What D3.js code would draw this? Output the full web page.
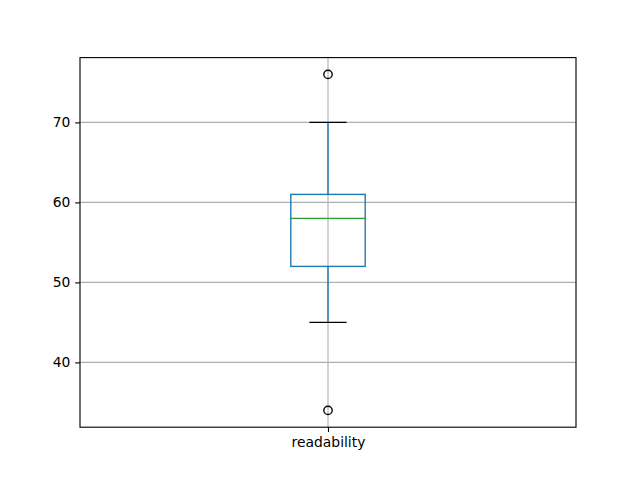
<!DOCTYPE html>
<html>
<head>
<meta charset="utf-8">
<script src="https://cdn.jsdelivr.net/npm/d3@7"></script>
<style>
  html, body { margin: 0; padding: 0; background: #fff; }
  text { font-family: "DejaVu Sans", sans-serif; }
</style>
</head>
<body>
<div id="chart"></div>
<script>
// pandas-style boxplot of one column
const categories = ["readability"];
const q1 = [52];
const medians = [58];
const q3 = [61];
const whiskLo = [45];
const whiskHi = [70];
const fliers = [[34, 76]];
const yTicks = [40, 50, 60, 70];

const W = 640, H = 480;
const m = { top: 57.6, right: 64, bottom: 52.8, left: 80 };
const pt = 100 / 72; // matplotlib points -> px at dpi 100

const svg = d3.select("#chart").append("svg")
  .attr("width", W).attr("height", H);

const x = d3.scaleLinear().domain([0.5, 1.5]).range([m.left, W - m.right]);
const y = d3.scaleLinear().domain([31.9, 78.1]).range([H - m.bottom, m.top]);

const grid = "#b0b0b0";

// grid lines
svg.append("g").selectAll("line").data(yTicks).enter().append("line")
  .attr("x1", m.left).attr("x2", W - m.right)
  .attr("y1", d => y(d)).attr("y2", d => y(d))
  .attr("stroke", grid).attr("stroke-width", 0.8 * pt);
svg.append("g").selectAll("line").data(categories).enter().append("line")
  .attr("x1", (d, i) => x(i + 1)).attr("x2", (d, i) => x(i + 1))
  .attr("y1", m.top).attr("y2", H - m.bottom)
  .attr("stroke", grid).attr("stroke-width", 0.8 * pt);

const boxW = 0.15, capW = 0.075;

categories.forEach((c, i) => {
  const p = i + 1;
  const g = svg.append("g");
  // whiskers
  g.append("line").attr("x1", x(p)).attr("x2", x(p))
    .attr("y1", y(q3[i])).attr("y2", y(whiskHi[i]))
    .attr("stroke", "#1f77b4").attr("stroke-width", pt);
  g.append("line").attr("x1", x(p)).attr("x2", x(p))
    .attr("y1", y(q1[i])).attr("y2", y(whiskLo[i]))
    .attr("stroke", "#1f77b4").attr("stroke-width", pt);
  // caps
  [whiskLo[i], whiskHi[i]].forEach(v => {
    g.append("line").attr("x1", x(p - capW / 2)).attr("x2", x(p + capW / 2))
      .attr("y1", y(v)).attr("y2", y(v))
      .attr("stroke", "#000").attr("stroke-width", pt);
  });
  // box
  g.append("rect")
    .attr("x", x(p - boxW / 2)).attr("width", x(p + boxW / 2) - x(p - boxW / 2))
    .attr("y", y(q3[i])).attr("height", y(q1[i]) - y(q3[i]))
    .attr("fill", "none").attr("stroke", "#1f77b4").attr("stroke-width", pt);
  // median
  g.append("line").attr("x1", x(p - boxW / 2)).attr("x2", x(p + boxW / 2))
    .attr("y1", y(medians[i])).attr("y2", y(medians[i]))
    .attr("stroke", "#2ca02c").attr("stroke-width", pt);
  // fliers
  g.selectAll("circle").data(fliers[i]).enter().append("circle")
    .attr("cx", x(p)).attr("cy", d => y(d)).attr("r", 3 * pt)
    .attr("fill", "none").attr("stroke", "#000").attr("stroke-width", pt);
});

// axes
const yAxis = svg.append("g").attr("transform", `translate(${m.left},0)`)
  .call(d3.axisLeft(y).tickValues(yTicks).tickSize(3.5 * pt).tickPadding(3.5 * pt));
const xAxis = svg.append("g").attr("transform", `translate(0,${H - m.bottom})`)
  .call(d3.axisBottom(x).tickValues([1]).tickFormat((d) => categories[d - 1])
    .tickSize(3.5 * pt).tickPadding(3.5 * pt));
[yAxis, xAxis].forEach(a => {
  a.select(".domain").remove();
  a.selectAll("line").attr("stroke", "#000").attr("stroke-width", 0.8 * pt);
  a.selectAll("text").attr("font-size", (10 * pt) + "px").attr("fill", "#000")
    .attr("font-family", "DejaVu Sans, sans-serif");
});

// frame
svg.append("rect")
  .attr("x", m.left).attr("y", m.top)
  .attr("width", W - m.left - m.right).attr("height", H - m.top - m.bottom)
  .attr("fill", "none").attr("stroke", "#000").attr("stroke-width", 0.8 * pt);
</script>
</body>
</html>
